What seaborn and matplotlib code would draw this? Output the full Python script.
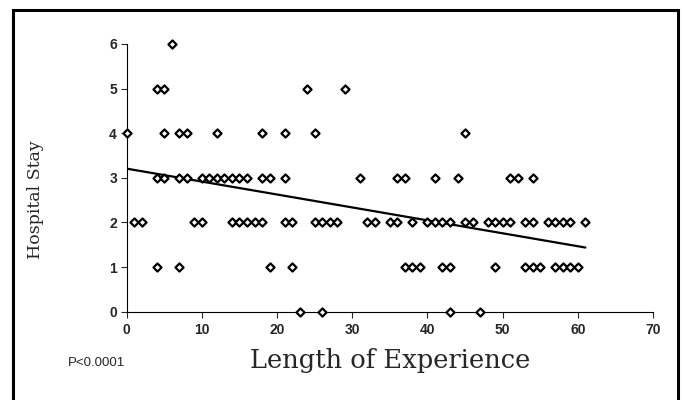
import numpy as np
import pandas as pd
import seaborn as sns
import matplotlib.pyplot as plt
from matplotlib.patches import Rectangle

# Data: length of experience (years) grouped by hospital stay (days)
stay_6 = [6]
stay_5 = [4, 5, 24, 29]
stay_4 = [0, 5, 7, 8, 12, 18, 21, 25, 45]
stay_3 = [4, 5, 7, 8, 10, 11, 12, 13, 14, 15, 16, 18, 19, 21, 31, 36, 37, 41, 44,
          51, 52, 54]
stay_2 = [1, 2, 9, 10, 14, 15, 16, 17, 18, 21, 22, 25, 26, 27, 28, 32, 33, 35, 36,
          38, 40, 41, 42, 43, 45, 46, 48, 49, 50, 51, 53, 54, 56, 57, 58, 59, 61]
stay_1 = [4, 7, 19, 22, 37, 38, 39, 42, 43, 49, 53, 54, 55, 57, 58, 59, 60]
stay_0 = [23, 26, 43, 47]

x_ticks = [0, 10, 20, 30, 40, 50, 60, 70]
y_ticks = [0, 1, 2, 3, 4, 5, 6]

groups = {6: stay_6, 5: stay_5, 4: stay_4, 3: stay_3, 2: stay_2, 1: stay_1, 0: stay_0}
df = pd.DataFrame(
    [(x, stay) for stay, xs in groups.items() for x in xs],
    columns=["experience", "stay"],
)

sns.set_style("white")
plt.rcParams["font.family"] = ["Liberation Sans", "DejaVu Sans"]

fig = plt.figure(figsize=(6.82, 4), dpi=100)
ax = fig.add_axes([0.1858, 0.2208, 0.7717, 0.6693])

# scatter of open diamonds + least squares line
sns.scatterplot(data=df, x="experience", y="stay", ax=ax, marker="D", s=17,
                facecolor="white", edgecolor="black", linewidth=1.6,
                clip_on=False, zorder=3)
sns.regplot(data=df, x="experience", y="stay", ax=ax, scatter=False, ci=None,
            truncate=True, line_kws={"color": "black", "linewidth": 1.6})

ax.set_xlim(0, 70)
ax.set_ylim(0, 6)
ax.set_xticks(x_ticks)
ax.set_yticks(y_ticks)
ax.tick_params(axis="both", direction="out", length=4, width=0.8, pad=3,
               labelsize=10, bottom=True, left=True)
ax.tick_params(axis="x", pad=4)
for lab in ax.get_xticklabels() + ax.get_yticklabels():
    lab.set_fontweight("bold")

for side in ["top", "right"]:
    ax.spines[side].set_visible(False)
for side in ["left", "bottom"]:
    ax.spines[side].set_color("black")
    ax.spines[side].set_linewidth(0.8)

ax.set_xlabel("")
ax.set_ylabel("")
fig.text(0.572, 0.098, "Length of Experience", family="DejaVu Serif",
         fontsize=18.5, ha="center", va="center")
fig.text(0.052, 0.5, "Hospital Stay", family="DejaVu Serif", fontsize=12.5,
         rotation=90, ha="center", va="center")
fig.text(0.1, 0.093, "P<0.0001", fontsize=9.5, ha="left", va="center")

# frame around the whole figure
fig.patches.append(Rectangle((13 / 682, -0.02), (678 - 13) / 682, 1.02 - 10 / 400,
                             transform=fig.transFigure, fill=False,
                             edgecolor="black", linewidth=2.2))

fig.savefig("out.png", dpi=100)
